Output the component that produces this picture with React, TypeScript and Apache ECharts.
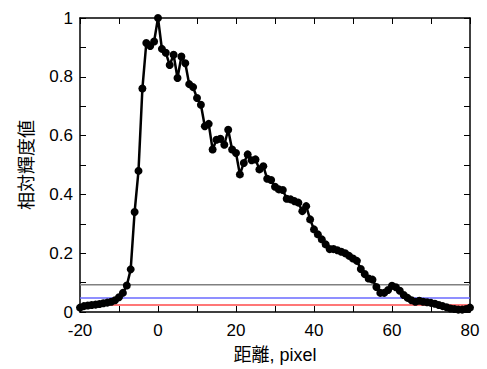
import React, { useEffect, useRef } from "react";
import * as echarts from "echarts";

const distance = [
  -20, -19, -18, -17, -16, -15, -14, -13, -12, -11,
  -10, -9, -8, -7, -6, -5, -4, -3, -2, -1,
  0, 1, 2, 3, 4, 5, 6, 7, 8, 9,
  10, 11, 12, 13, 14, 15, 16, 17, 18, 19,
  20, 21, 22, 23, 24, 25, 26, 27, 28, 29,
  30, 31, 32, 33, 34, 35, 36, 37, 38, 39,
  40, 41, 42, 43, 44, 45, 46, 47, 48, 49,
  50, 51, 52, 53, 54, 55, 56, 57, 58, 59,
  60, 61, 62, 63, 64, 65, 66, 67, 68, 69,
  70, 71, 72, 73, 74, 75, 76, 77, 78, 79,
  80,
];

const luminance = [
  0.015, 0.02, 0.022, 0.024, 0.025, 0.027, 0.03, 0.032, 0.035, 0.04,
  0.05, 0.065, 0.09, 0.145, 0.34, 0.48, 0.76, 0.915, 0.905, 0.92,
  1.0, 0.895, 0.882, 0.84, 0.875, 0.796, 0.869, 0.846, 0.775, 0.765,
  0.728, 0.705, 0.632, 0.64, 0.553, 0.586, 0.589, 0.569, 0.62, 0.553,
  0.541, 0.468, 0.507, 0.536, 0.516, 0.519, 0.485, 0.496, 0.453, 0.449,
  0.426, 0.417, 0.415, 0.385, 0.383, 0.377, 0.372, 0.343, 0.36, 0.315,
  0.281, 0.264, 0.247, 0.23, 0.214, 0.214, 0.21, 0.205, 0.2, 0.191,
  0.182, 0.174, 0.146, 0.129, 0.114, 0.11, 0.085, 0.065, 0.065, 0.075,
  0.089, 0.084, 0.072, 0.058, 0.048, 0.04, 0.035, 0.038, 0.035, 0.033,
  0.031, 0.028, 0.024, 0.02, 0.016, 0.012, 0.01, 0.008, 0.008, 0.01,
  0.015,
];

const thresholdValues = [0.093, 0.048, 0.024];
const thresholdColors = ["#808080", "#6a6aff", "#ff4a4a"];

const xTickLabels = ["-20", "0", "20", "40", "60", "80"];

const FONT = "'Liberation Sans', 'Noto Sans CJK JP', sans-serif";

export default function App() {
  const ref = useRef<HTMLDivElement>(null);

  useEffect(() => {
    if (!ref.current) return;
    const chart = echarts.init(ref.current, null, { renderer: "svg" });
    const xMin = distance[0];
    const xMax = distance[distance.length - 1];

    const axisLine = { show: true, onZero: false, lineStyle: { color: "#000", width: 1.5 } };
    const tick = { show: true, inside: true, length: 6, lineStyle: { color: "#000", width: 1 } };
    const minor = { show: true, splitNumber: 2, length: 6, lineStyle: { color: "#000", width: 1 } };

    chart.setOption({
      animation: false,
      backgroundColor: "#fff",
      grid: { left: 80, right: 17, top: 18, bottom: 56 },
      xAxis: [
        {
          type: "value",
          min: xMin,
          max: xMax,
          interval: 20,
          axisLine,
          axisTick: tick,
          minorTick: minor,
          splitLine: { show: false },
          axisLabel: {
            color: "#000",
            fontSize: 17,
            fontFamily: FONT,
            margin: 10,
            formatter: (v: number) => (xTickLabels.includes(String(v)) ? String(v) : ""),
          },
          name: "距離, pixel",
          nameLocation: "middle",
          nameGap: 34,
          nameTextStyle: { color: "#000", fontSize: 18, fontFamily: FONT },
        },
        {
          type: "value",
          position: "top",
          min: xMin,
          max: xMax,
          interval: 20,
          axisLine,
          axisTick: tick,
          minorTick: minor,
          splitLine: { show: false },
          axisLabel: { show: false },
        },
      ],
      yAxis: [
        {
          type: "value",
          min: 0,
          max: 1,
          interval: 0.2,
          axisLine,
          axisTick: tick,
          minorTick: minor,
          splitLine: { show: false },
          axisLabel: { color: "#000", fontSize: 17, fontFamily: FONT, margin: 7 },
          name: "相対輝度値",
          nameLocation: "middle",
          nameGap: 44,
          nameTextStyle: { color: "#000", fontSize: 18, fontFamily: FONT },
        },
        {
          type: "value",
          position: "right",
          min: 0,
          max: 1,
          interval: 0.2,
          axisLine,
          axisTick: tick,
          minorTick: minor,
          splitLine: { show: false },
          axisLabel: { show: false },
        },
      ],
      series: [
        ...thresholdValues.map((v, i) => ({
          type: "line",
          data: [
            [xMin, v],
            [xMax, v],
          ],
          symbol: "none",
          lineStyle: { color: thresholdColors[i], width: 1.5 },
          z: 1,
          silent: true,
        })),
        {
          type: "line",
          data: distance.map((d, i) => [d, luminance[i]]),
          symbol: "circle",
          symbolSize: 8,
          itemStyle: { color: "#000" },
          lineStyle: { color: "#000", width: 2.5 },
          clip: false,
          z: 5,
        },
      ],
    });
    return () => chart.dispose();
  }, []);

  return (
    <div
      ref={ref}
      style={{ position: "fixed", left: 0, top: 0, width: 487, height: 369, background: "#fff" }}
    />
  );
}
